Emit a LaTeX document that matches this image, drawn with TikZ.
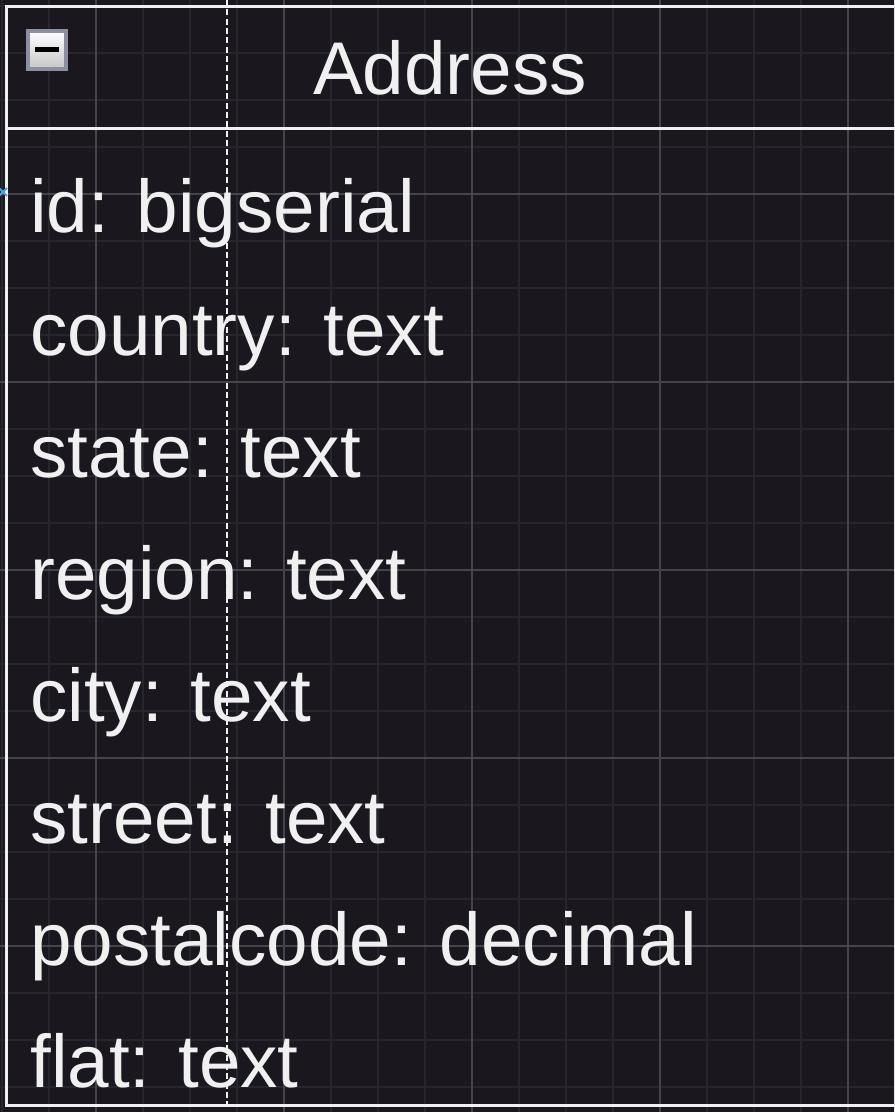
\documentclass[tikz,border=0pt]{standalone}
\usepackage{fontspec}
\setmainfont{Liberation Sans}
\definecolor{canvas}{HTML}{1A181E}
\definecolor{minorline}{HTML}{28262D}
\definecolor{majorline}{HTML}{45444A}
\definecolor{ink}{HTML}{F0F0F0}
\definecolor{iconrim}{HTML}{8A90A0}
\definecolor{marker}{HTML}{4AA8E8}
\tikzstyle{minor grid}=[minorline, line width=1.5pt]
\tikzstyle{major grid}=[majorline, line width=0.9pt]
\tikzstyle{frame}=[ink, line width=2.25pt]
\tikzstyle{guide}=[ink, line width=0.9pt, dash pattern=on 4.5pt off 2.5pt]
\tikzstyle{title}=[anchor=base, inner sep=0, text=ink, font=\fontsize{56}{60}\selectfont]
\tikzstyle{field}=[anchor=base west, inner sep=0, text=ink, font=\fontsize{56}{60}\selectfont]
\tikzstyle{toggle}=[draw=iconrim, line width=3pt, minimum size=28.5pt, inner sep=0,
  top color=white, bottom color=gray!45]

\begin{document}
\begin{tikzpicture}[x=0.75pt, y=-0.75pt]
  \useasboundingbox (0,0) rectangle (894,1112);
  \clip (0,0) rectangle (894,1112);
  \fill[canvas] (0,0) rectangle (894,1112);

  % grid
  \foreach \k in {0,...,19}
    \draw[minor grid] ({2+47*\k},0) -- ({2+47*\k},1112);
  \foreach \k in {0,...,23}
    \draw[minor grid] (0,{6+47*\k}) -- (894,{6+47*\k});
  \foreach \x in {96,284,472,660,848}
    \draw[major grid] (\x,0) -- (\x,1112);
  \foreach \y in {194,382,570,758,946}
    \draw[major grid] (0,\y) -- (894,\y);

  % table frame
  \coordinate (frame nw) at (6.5,7);
  \coordinate (frame ne) at (900,7);
  \coordinate (head sw) at (6.5,129);
  \coordinate (head se) at (900,129);
  \coordinate (frame sw) at (6.5,1105);
  \coordinate (frame se) at (900,1105);
  \draw[frame] (frame ne) -- (frame nw) -- (frame sw) -- (frame se);
  \draw[frame] (head sw) -- (head se);

  \coordinate (guide top) at (227,0);
  \coordinate (guide bottom) at (227,1104);
  \draw[guide] (guide top) -- (guide bottom);

  \node[toggle] (collapse) at (47,50) {};
  \draw[black, line width=3.75pt] ([xshift=-9pt]collapse.center) -- ([xshift=9pt]collapse.center);

  \node[title] (address) at (450,95) {Address};

  \foreach \name/\txt [count=\i] in {id/id: bigserial, country/country: text,
      state/state: text, region/region: text, city/city: text,
      street/street: text, postalcode/postalcode: decimal, flat/flat: text}
    \node[field] (\name) at (30,{233+122*(\i-1)}) {\txt};

  % connection marker
  \coordinate (pin) at (3,192);
  \draw[marker, line width=1.5pt] ([shift={(-3pt,-3pt)}]pin) -- ([shift={(3pt,3pt)}]pin)
    ([shift={(-3pt,3pt)}]pin) -- ([shift={(3pt,-3pt)}]pin);
\end{tikzpicture}
\end{document}
